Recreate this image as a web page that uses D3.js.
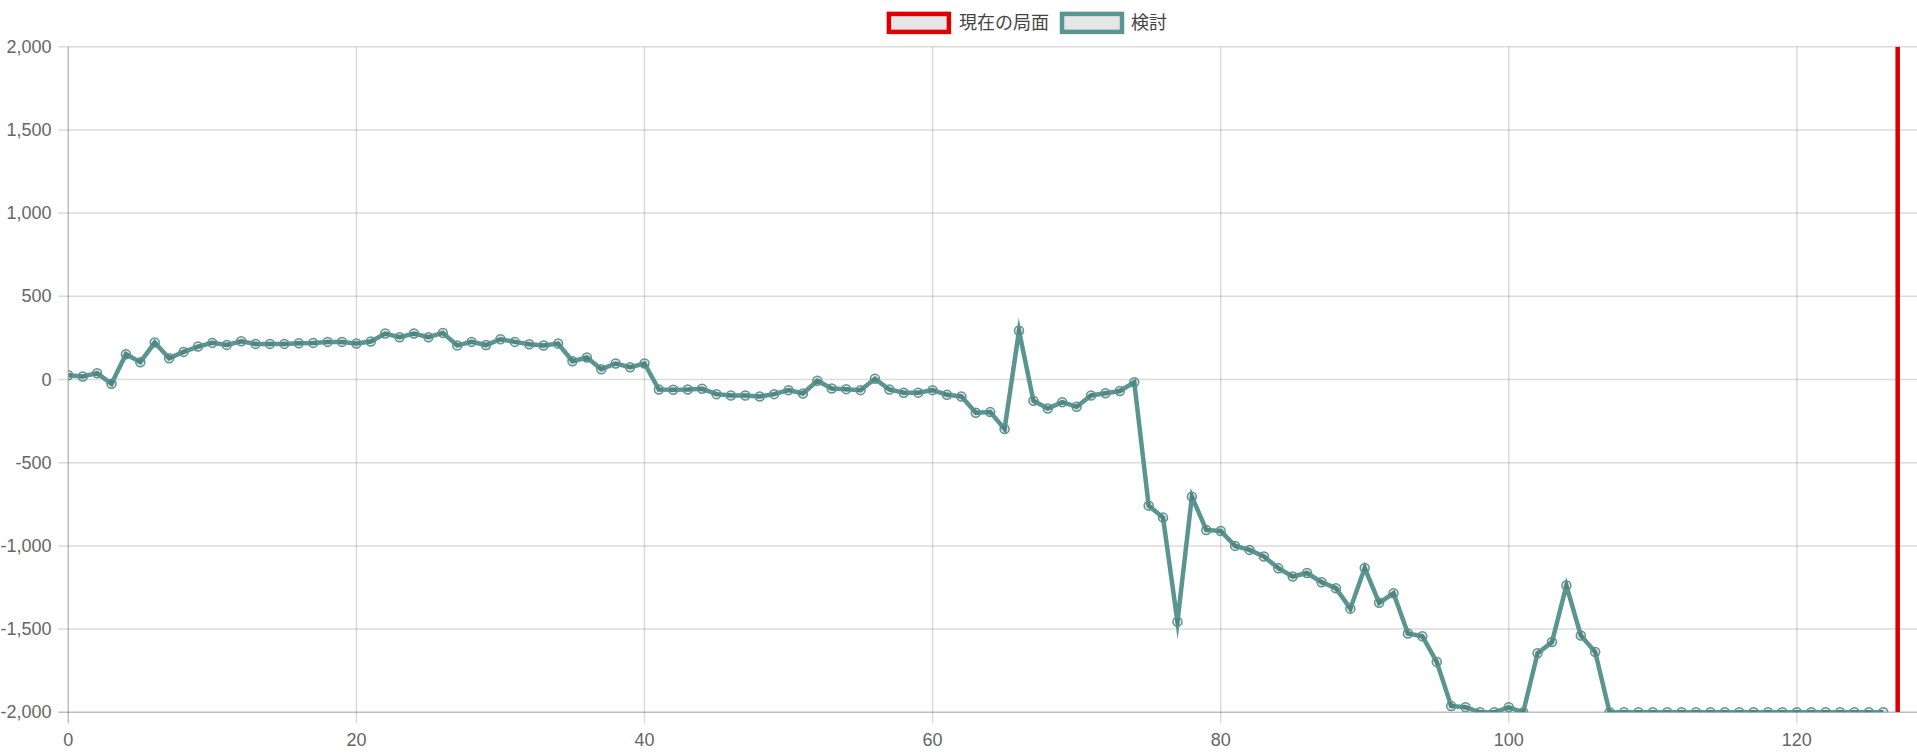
<!DOCTYPE html>
<html>
<head>
<meta charset="utf-8">
<script src="https://cdn.jsdelivr.net/npm/d3@7"></script>
<style>
  html, body { margin: 0; padding: 0; background: #fff; }
  svg { display: block; }
  text { font-family: "Liberation Sans", Arial, "Noto Sans CJK JP", sans-serif; }
</style>
</head>
<body>
<svg id="chart" width="1917" height="754"></svg>
<script>
// ---- data ----
const seriesNames = ["現在の局面", "検討"];
const seriesColors = ["#dd0000", "#5a9591"];
// evaluation values per move (index = move number)
const evalValues = [
  26, 18, 38, -26, 152, 104, 222, 128, 166, 198,
  220, 208, 230, 214, 214, 214, 218, 220, 226, 226,
  216, 228, 276, 254, 276, 254, 280, 205, 226, 207,
  242, 226, 212, 204, 216, 110, 132, 62, 96, 74,
  96, -60, -62, -60, -56, -88, -96, -96, -102, -88,
  -64, -84, -8, -54, -58, -64, 4, -60, -80, -79,
  -64, -92, -102, -200, -196, -297, 293, -128, -174, -136,
  -164, -96, -83, -69, -17, -758, -830, -1456, -704, -904,
  -910, -1000, -1024, -1064, -1134, -1184, -1163, -1218, -1254, -1377,
  -1133, -1342, -1285, -1526, -1543, -1697, -1962, -1970, -2000, -2000,
  -1970, -2000, -1645, -1578, -1238, -1538, -1638, -2000, -2000, -2000,
  -2000, -2000, -2000, -2000, -2000, -2000, -2000, -2000, -2000, -2000,
  -2000, -2000, -2000, -2000, -2000, -2000, -2000
];
// current position marker (vertical line)
const currentX = [127, 127];
const currentY = [-2000, 2000];
const xTicks = [0, 20, 40, 60, 80, 100, 120];
const yTicks = [-2000, -1500, -1000, -500, 0, 500, 1000, 1500, 2000];
const xDomain = [0, 128];
const yDomain = [-2000, 2000];

(function () {
// ---- layout ----
const W = 1917, H = 754;
const padL = 68.3, padT = 46.7, padB = 712.3, padR = 1912.1;
const svg = d3.select("#chart");

const x = d3.scaleLinear().domain(xDomain).range([padL, padR]);
const y = d3.scaleLinear().domain(yDomain).range([padB, padT]);

const gridColor = "rgba(0,0,0,0.14)";
const axisColor = "rgba(0,0,0,0.25)";
const tickColor = "#666";
const fmt = d3.formatLocale({ decimal: ".", thousands: ",", grouping: [3], currency: ["", ""], minus: "-" }).format(",");

// horizontal grid
const gGrid = svg.append("g");
gGrid.selectAll("line.h").data(yTicks).join("line")
  .attr("class", "h")
  .attr("x1", padL - 10).attr("x2", W)
  .attr("y1", d => y(d)).attr("y2", d => y(d))
  .attr("stroke", d => d === yDomain[0] ? axisColor : gridColor)
  .attr("stroke-width", 1.5);
// vertical grid
gGrid.selectAll("line.v").data(xTicks).join("line")
  .attr("class", "v")
  .attr("y1", padT).attr("y2", padB + 11)
  .attr("x1", d => x(d)).attr("x2", d => x(d))
  .attr("stroke", d => d === xDomain[0] ? axisColor : gridColor)
  .attr("stroke-width", 1.5);

// y tick labels
svg.append("g").selectAll("text").data(yTicks).join("text")
  .attr("x", 51.5).attr("y", d => y(d))
  .attr("text-anchor", "end").attr("dominant-baseline", "central")
  .attr("font-size", 18).attr("fill", tickColor)
  .text(d => fmt(d));
// x tick labels
svg.append("g").selectAll("text").data(xTicks).join("text")
  .attr("x", d => x(d)).attr("y", 739.5)
  .attr("text-anchor", "middle").attr("dominant-baseline", "central")
  .attr("font-size", 18).attr("fill", tickColor)
  .text(d => d);

// clip
svg.append("clipPath").attr("id", "clip").append("rect")
  .attr("x", padL).attr("y", padT).attr("width", W - padL).attr("height", padB - padT);

const plot = svg.append("g").attr("clip-path", "url(#clip)");

const line = d3.line().x(d => x(d[0])).y(d => y(d[1]));

// evaluation line
const evalPts = evalValues.map((v, i) => [i, v]);
plot.append("path").datum(evalPts)
  .attr("d", line)
  .attr("fill", "none")
  .attr("stroke", seriesColors[1])
  .attr("stroke-width", 4.5)
  .attr("stroke-linejoin", "miter")
  .attr("stroke-miterlimit", 10);
plot.append("g").selectAll("circle").data(evalPts).join("circle")
  .attr("cx", d => x(d[0])).attr("cy", d => y(d[1]))
  .attr("r", 4.5)
  .attr("fill", "rgba(0,0,0,0.1)")
  .attr("stroke", seriesColors[1])
  .attr("stroke-width", 1.5);

// current position line
plot.append("path").datum(currentX.map((v, i) => [v, currentY[i]]))
  .attr("d", line)
  .attr("fill", "none")
  .attr("stroke", seriesColors[0])
  .attr("stroke-width", 4.5);

// legend
const legendBoxX = [888.9, 1062];
const legendTextX = [959, 1131];
const lg = svg.append("g");
seriesNames.forEach((name, i) => {
  lg.append("rect")
    .attr("x", legendBoxX[i]).attr("y", 13.9)
    .attr("width", 60).attr("height", 18)
    .attr("fill", "#e6e6e6")
    .attr("stroke", seriesColors[i]).attr("stroke-width", 4.5);
  lg.append("text")
    .attr("x", legendTextX[i]).attr("y", 22.5)
    .attr("dominant-baseline", "central")
    .attr("font-size", 18).attr("fill", "#444")
    .text(name);
});
})();
</script>
</body>
</html>
